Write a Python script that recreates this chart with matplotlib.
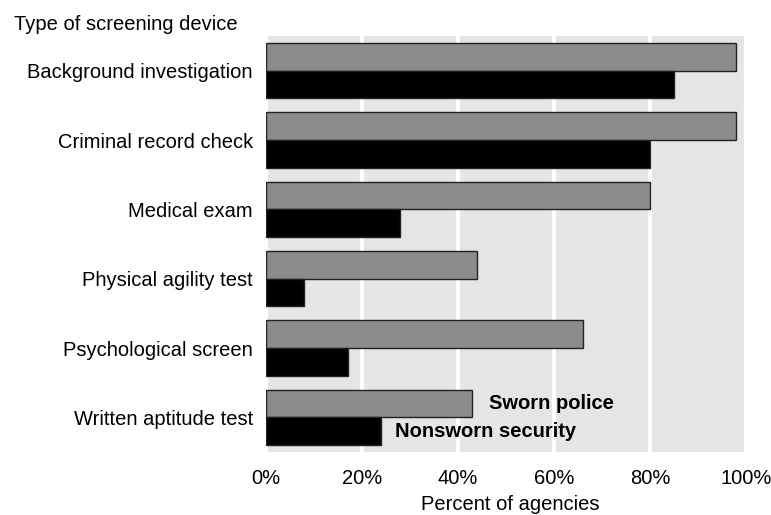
import matplotlib
matplotlib.use("Agg")
import matplotlib.pyplot as plt
import numpy as np

categories = ["Background investigation", "Criminal record check", "Medical exam",
              "Physical agility test", "Psychological screen", "Written aptitude test"]
sworn = [98, 98, 80, 44, 66, 43]
nonsworn = [85, 80, 28, 8, 17, 24]
xticks = [0, 20, 40, 60, 80, 100]
xticklabels = ["0%", "20%", "40%", "60%", "80%", "100%"]

plt.rcParams['font.family'] = ['Liberation Sans', 'DejaVu Sans']

fig = plt.figure(figsize=(7.71, 5.15), dpi=100)
ax = fig.add_axes([266/771, 1-452/515, (746-266)/771, (452-36)/515])
ax.set_facecolor("#e5e5e5")

y = np.arange(len(categories))
h = 0.4
ax.barh(y - h/2, sworn, height=h, color="#8c8c8c", edgecolor="#222222", linewidth=1, zorder=3)
ax.barh(y + h/2, nonsworn, height=h, color="#000000", edgecolor="#222222", linewidth=1, zorder=3)

ax.set_xlim(0, 100)
ax.set_ylim(len(categories) - 0.5, -0.5)
ax.set_xticks(xticks)
ax.set_xticklabels(xticklabels, fontsize=14.5)
ax.set_yticks(y)
ax.set_yticklabels(categories, fontsize=14.5)
ax.tick_params(axis='both', length=0)
ax.tick_params(axis='x', pad=12)
ax.tick_params(axis='y', pad=9.5)
ax.xaxis.grid(True, color="white", linewidth=3, zorder=1)
ax.set_axisbelow(True)
for s in ax.spines.values():
    s.set_visible(False)

fig.text(510/771, 1-495/515, "Percent of agencies", fontsize=14.5, ha="center", va="top")

ax.text(46.5, 5 - h/2, "Sworn police", fontsize=14.5, fontweight="bold", va="center", ha="left", zorder=4)
ax.text(26.8, 5 + h/2, "Nonsworn security", fontsize=14.5, fontweight="bold", va="center", ha="left", zorder=4)

fig.text(14/771, 1-25/515, "Type of screening device", fontsize=14.5, ha="left", va="center")

fig.savefig("out.png", dpi=100)
